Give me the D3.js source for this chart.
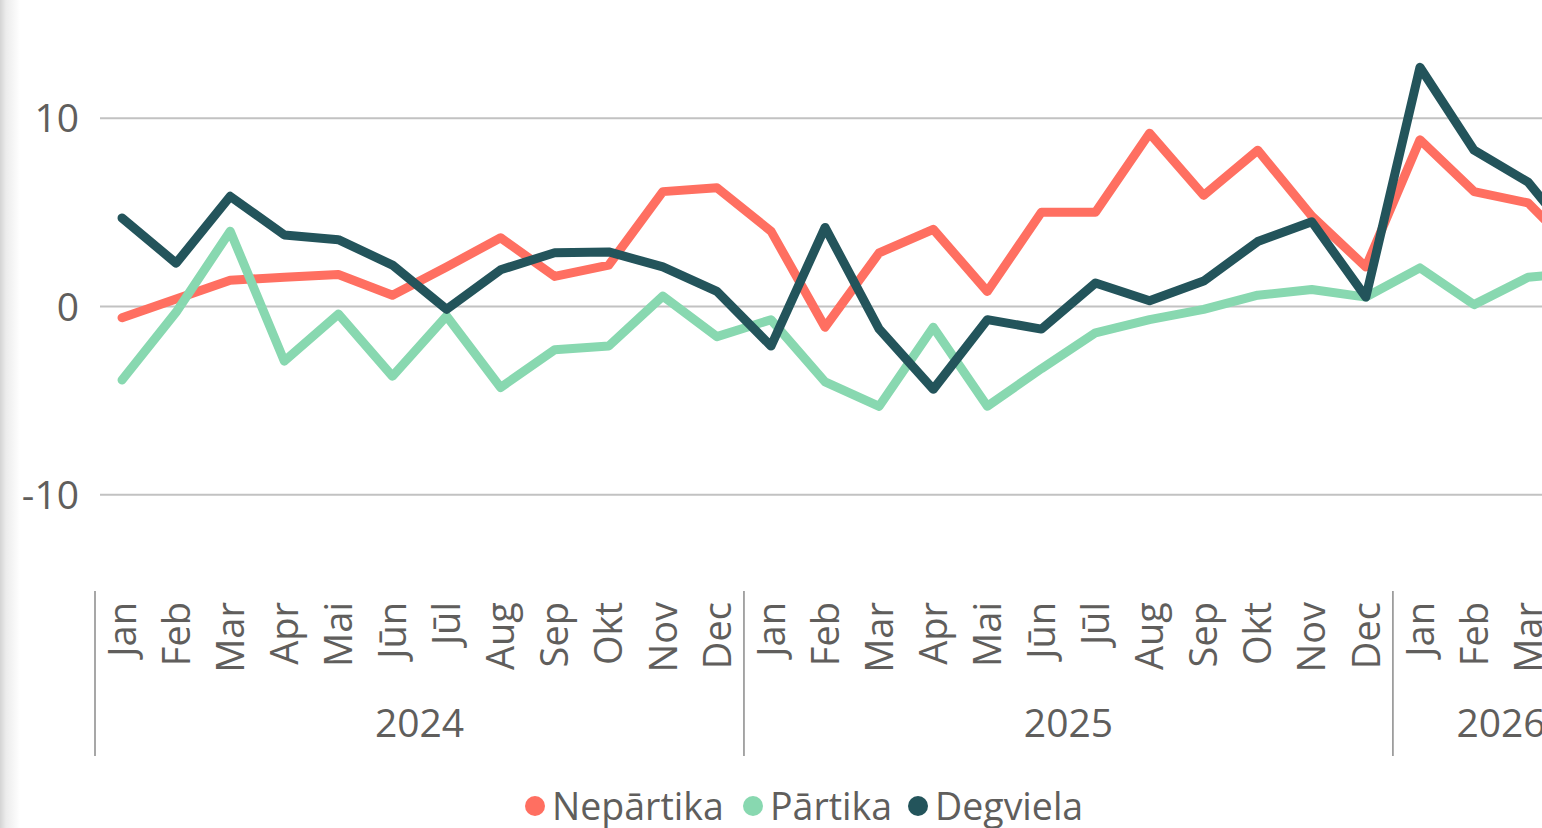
<!DOCTYPE html>
<html>
<head>
<meta charset="utf-8">
<script src="https://cdn.jsdelivr.net/npm/d3@7"></script>
<style>
  html, body { margin: 0; padding: 0; background: #fff; overflow: hidden; }
  #chart { width: 1542px; height: 828px; overflow: hidden; }
  text { font-family: "Open Sans", "Noto Sans", sans-serif; fill: #605e5c; }
</style>
</head>
<body>
<div id="chart"></div>
<script>
// months shown on the axis, grouped by year
var years = ["2024", "2025", "2026"];
var monthNames = ["Jan", "Feb", "Mar", "Apr", "Mai", "Jūn", "Jūl", "Aug", "Sep", "Okt", "Nov", "Dec"];
var monthsPerYear = [12, 12, 4];

var seriesNames = ["Nepārtika", "Pārtika", "Degviela"];
var seriesColors = ["#ff6f61", "#88d8b0", "#23545b"];

var nepartika = [-0.6, 0.4, 1.4, 1.55, 1.7, 0.6, 2.1, 3.65, 1.6, 2.2, 6.1, 6.3,
                 4.0, -1.1, 2.85, 4.1, 0.8, 5.0, 5.0, 9.2, 5.9, 8.3, 4.8, 2.1,
                 8.85, 6.1, 5.5, 2.6];
var partika = [-3.9, -0.3, 4.0, -2.9, -0.4, -3.7, -0.5, -4.3, -2.3, -2.1, 0.55, -1.6,
               -0.7, -4.0, -5.3, -1.1, -5.3, -3.3, -1.4, -0.7, -0.15, 0.6, 0.9, 0.5,
               2.05, 0.1, 1.55, 1.8];
var degviela = [4.7, 2.3, 5.85, 3.8, 3.55, 2.2, -0.15, 1.95, 2.85, 2.9, 2.1, 0.8,
                -2.1, 4.2, -1.2, -4.4, -0.7, -1.2, 1.25, 0.3, 1.35, 3.45, 4.5, 0.5,
                12.7, 8.3, 6.6, 3.1];

var yTicks = [-10, 0, 10];

var width = 1700, height = 828;
var step = 54.08;

// flat list of categories
var cats = [];
years.forEach(function(yr, yi) {
  for (var m = 0; m < monthsPerYear[yi]; m++) {
    cats.push({ year: yr, month: monthNames[m], key: yr + "-" + m });
  }
});

var x = d3.scaleBand()
  .domain(cats.map(function(d) { return d.key; }))
  .range([95, 95 + step * cats.length])
  .padding(0);

var y = d3.scaleLinear().domain([-15, 15]).range([589, 24]);

var svg = d3.select("#chart").append("svg")
  .attr("width", width)
  .attr("height", height);

// soft shadow along the left edge
var defs = svg.append("defs");
var grad = defs.append("linearGradient").attr("id", "edge").attr("x1", 0).attr("x2", 1);
grad.append("stop").attr("offset", 0).attr("stop-color", "#d4d4d4");
grad.append("stop").attr("offset", 0.3).attr("stop-color", "#ececec");
grad.append("stop").attr("offset", 1).attr("stop-color", "#ffffff");
svg.append("rect").attr("x", 0).attr("y", 0).attr("width", 20).attr("height", height)
  .attr("fill", "url(#edge)");

// gridlines
svg.selectAll(".grid")
  .data(yTicks)
  .enter()
  .append("line")
  .attr("x1", 100)
  .attr("x2", width)
  .attr("y1", function(d) { return y(d); })
  .attr("y2", function(d) { return y(d); })
  .attr("stroke", "#c2c2c2")
  .attr("stroke-width", 2);

svg.selectAll(".ylab")
  .data(yTicks)
  .enter()
  .append("text")
  .attr("x", 79)
  .attr("y", function(d) { return y(d); })
  .attr("dy", "0.36em")
  .attr("text-anchor", "end")
  .style("font-size", "39px")
  .text(function(d) { return d; });

// month labels
svg.selectAll(".mlab")
  .data(cats)
  .enter()
  .append("text")
  .attr("transform", function(d) {
    return "translate(" + (x(d.key) + x.bandwidth() / 2) + ",602) rotate(-90)";
  })
  .attr("dy", "0.36em")
  .attr("text-anchor", "end")
  .style("font-size", "38px")
  .text(function(d) { return d.month; });

// year separators and labels
var yearStart = 0;
years.forEach(function(yr, yi) {
  var x0 = x(cats[yearStart].key);
  var x1 = x0 + step * monthsPerYear[yi];
  svg.append("line")
    .attr("x1", x0).attr("x2", x0)
    .attr("y1", 591).attr("y2", 756)
    .attr("stroke", "#8a8a8a")
    .attr("stroke-width", 1.5);
  svg.append("text")
    .attr("x", (x0 + x1) / 2)
    .attr("y", 737)
    .attr("text-anchor", "middle")
    .style("font-size", "39px")
    .text(yr);
  yearStart += monthsPerYear[yi];
});

// lines
var seriesData = [nepartika, partika, degviela];
var line = d3.line()
  .x(function(d, i) { return x(cats[i].key) + x.bandwidth() / 2; })
  .y(function(d) { return y(d); });

svg.selectAll(".series")
  .data(seriesData)
  .enter()
  .append("path")
  .attr("d", line)
  .attr("fill", "none")
  .attr("stroke", function(d, i) { return seriesColors[i]; })
  .attr("stroke-width", 9)
  .attr("stroke-linejoin", "round")
  .attr("stroke-linecap", "round");

// legend
var legendX = [535, 753, 918];
var legend = svg.selectAll(".leg")
  .data(seriesNames)
  .enter()
  .append("g")
  .attr("transform", function(d, i) { return "translate(" + legendX[i] + ",806)"; });
legend.append("circle")
  .attr("r", 10)
  .attr("fill", function(d, i) { return seriesColors[i]; });
legend.append("text")
  .attr("x", 17)
  .attr("dy", "0.36em")
  .style("font-size", "37.5px")
  .text(function(d) { return d; });
</script>
</body>
</html>
